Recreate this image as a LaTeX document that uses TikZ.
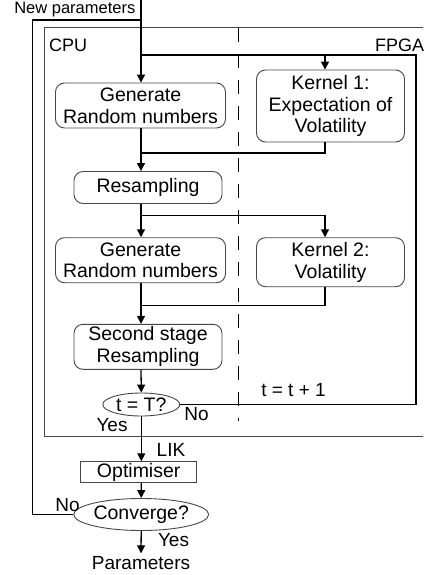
\documentclass[tikz,border=0pt]{standalone}
\usepackage{fontspec}
\setmainfont{Liberation Sans}
\usepackage{tikz}
\usetikzlibrary{shapes.geometric, arrows.meta, positioning}
\definecolor{boxline}{RGB}{70, 70, 70}
\definecolor{wireline}{RGB}{0, 0, 0}

\begin{document}
\begin{tikzpicture}[x=1pt, y=-1pt,
    stage/.style={draw=boxline, line width=0.9pt, rounded corners=9pt, align=center, inner sep=0pt, font=\fontsize{19.5}{21.7}\selectfont},
    test/.style={draw=boxline, line width=0.9pt, ellipse, inner sep=0pt, font=\fontsize{19.5}{21.7}\selectfont},
    lbl/.style={inner sep=0pt, font=\fontsize{19}{21}\selectfont},
    wire/.style={draw=wireline, line width=1.3pt},
    flow/.style={wire, -{Triangle[width=8pt, length=8pt]}}]
    \useasboundingbox (0,0) rectangle (423,575);
    \clip (0,0) rectangle (423,575);

    % CPU / FPGA frame
    \draw[boxline, line width=0.9pt] (44.5,27.7) rectangle (440,436);
    \draw[wireline, line width=1.3pt, dash pattern=on 14pt off 12pt] (238.3,28) -- (238.3,421);
    \node[lbl, anchor=west, font=\fontsize{18}{20}\selectfont] (cpu) at (49,45) {CPU};
    \node[lbl, anchor=west, font=\fontsize{18}{20}\selectfont] (fpga) at (375,45) {FPGA};

    % Input
    \node[lbl, anchor=east, font=\fontsize{16.5}{18}\selectfont] (newpar) at (135.5,10) {New parameters};
    \coordinate (top) at (141,0);
    \coordinate (split) at (141,55);
    \coordinate (k1in) at (325,55);
    \coordinate (back) at (416,55);
    \coordinate (loop) at (32.3,20);

    % First stage
    \node[stage, minimum width=170pt, minimum height=45pt] (gen1) at (140.5,105.5) {Generate\\Random numbers};
    \node[stage, minimum width=148pt, minimum height=72pt] (ker1) at (330.5,106) {Kernel 1:\\Expectation of\\Volatility};
    \node[stage, minimum width=148pt, minimum height=32pt] (res1) at (148,187.5) {Resampling};

    % Second stage
    \node[stage, minimum width=170pt, minimum height=45pt] (gen2) at (140.5,260.2) {Generate\\Random numbers};
    \node[stage, minimum width=148pt, minimum height=49pt] (ker2) at (330.5,262.2) {Kernel 2:\\Volatility};
    \node[stage, minimum width=148pt, minimum height=45pt] (res2) at (148,346.8) {Second stage\\Resampling};

    % Tests and optimiser
    \node[test, minimum width=77pt, minimum height=23pt] (endt) at (141.3,404.5) {t = T?};
    \node[draw=boxline, line width=0.9pt, inner sep=0pt, minimum width=116pt, minimum height=21pt, font=\fontsize{19.5}{21.7}\selectfont] (opt) at (138.7,472.2) {Optimiser};
    \node[test, minimum width=112pt, minimum height=32pt] (conv) at (141.2,514.5) {Converge?};
    \node[lbl] (par) at (141,563) {Parameters};
    \coordinate (out) at (141,553.3);

    % Junctions
    \coordinate (j1) at (141,153);
    \coordinate (j2) at (141,215.7);
    \coordinate (j3) at (141,305.7);

    % Connectors
    \draw[flow] (top) -- (top |- gen1.north);
    \draw[wire] (split) -- (back) |- (endt.east);
    \draw[flow] (k1in) -- (k1in |- ker1.north);
    \draw[wire] (top |- gen1.south) -- (j1);
    \draw[wire] (k1in |- ker1.south) |- (j1);
    \draw[flow] (j1) -- (j1 |- res1.north);
    \draw[wire] (j1 |- res1.south) -- (j2);
    \draw[flow] (j2) -- (j2 |- gen2.north);
    \draw[flow] (j2) -| (k1in |- ker2.north);
    \draw[wire] (j2 |- gen2.south) -- (j3);
    \draw[wire] (k1in |- ker2.south) |- (j3);
    \draw[flow] (j3) -- (j3 |- res2.north);
    \draw[flow] (j3 |- res2.south) -- (endt.north);
    \draw[flow] (endt.south) -- (endt.south |- opt.north);
    \draw[flow] (endt.south |- opt.south) -- (conv.north);
    \draw[flow] (conv.south) -- (out);
    \draw[wire] (conv.west) -| (loop) -- (top |- loop);

    % Labels
    \node[lbl] (inc) at (293.5,390) {t = t + 1};
    \node[lbl] (no1) at (196.5,414) {No};
    \node[lbl] (yes1) at (112,425) {Yes};
    \node[lbl] (lik) at (171,450) {LIK};
    \node[lbl] (no2) at (67.5,505) {No};
    \node[lbl] (yes2) at (173.5,540) {Yes};
\end{tikzpicture}
\end{document}
